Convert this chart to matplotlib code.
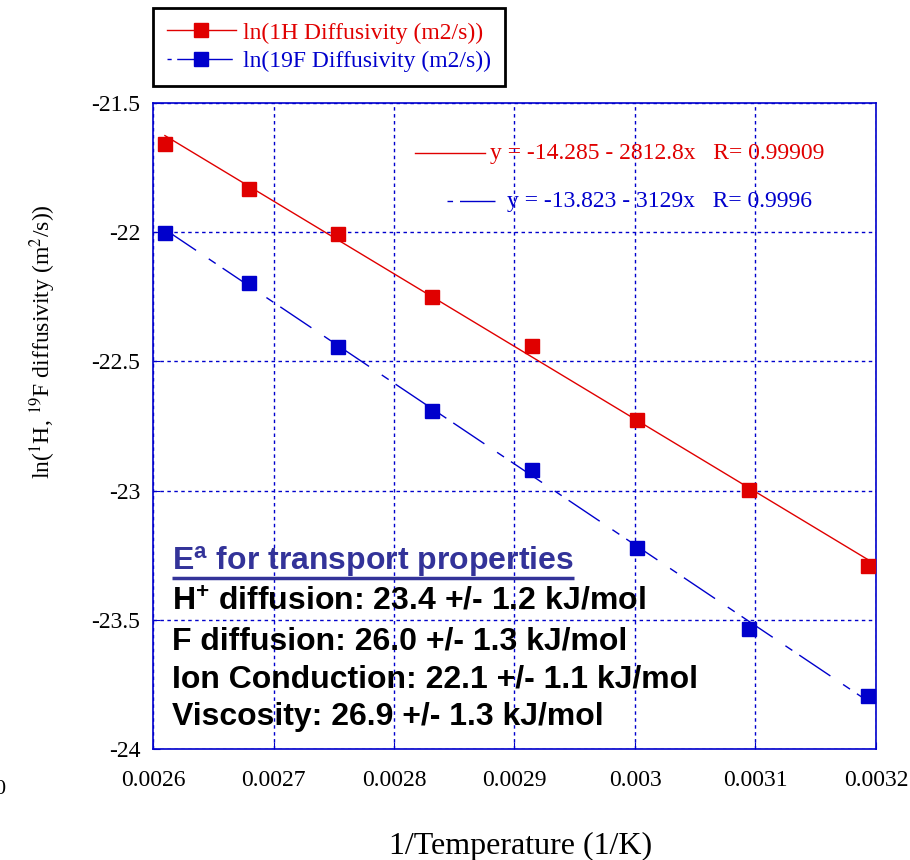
import numpy as np
import matplotlib
matplotlib.use('Agg')
from matplotlib import pyplot as plt
from matplotlib.font_manager import FontProperties

# 1/T for 110 ... 40 C
inv_temp = [0.0026099, 0.0026799, 0.0027537, 0.0028317,
            0.0029142, 0.0030017, 0.0030945, 0.0031934]
ln_h = [-21.659, -21.832, -22.007, -22.251, -22.440, -22.727, -22.998, -23.292]
ln_f = [-22.003, -22.197, -22.444, -22.692, -22.920, -23.222, -23.536, -23.795]

# linear fits y = a + b*x
fit_h = (-14.285, -2812.8, 0.99909)
fit_f = (-13.823, -3129.0, 0.9996)

xticks = [0.0026, 0.0027, 0.0028, 0.0029, 0.003, 0.0031, 0.0032]
yticks = [-24, -23.5, -23, -22.5, -22, -21.5]

ea_lines = ['H$^{+}$ diffusion: 23.4 +/- 1.2 kJ/mol',
            'F diffusion: 26.0 +/- 1.3 kJ/mol',
            'Ion Conduction: 22.1 +/- 1.1 kJ/mol',
            'Viscosity: 26.9 +/- 1.3 kJ/mol']

RED = '#e00000'
BLUE = '#0000cc'
serif = 'Liberation Serif'
sans = 'Liberation Sans'
plt.rcParams['font.family'] = serif
plt.rcParams['mathtext.fontset'] = 'custom'
plt.rcParams['mathtext.rm'] = 'Liberation Sans:bold'
plt.rcParams['mathtext.it'] = 'Liberation Sans:bold'
plt.rcParams['mathtext.bf'] = 'Liberation Sans:bold'

fig = plt.figure(figsize=(9.1, 8.6), dpi=100)
ax = fig.add_axes([153/910, 1-749/860, 723/910, 646/860])

dash_f = (0, (27, 11, 6, 6))

# fit lines across the measured range
xs = np.array([inv_temp[0], inv_temp[-1]])
ax.plot(xs, fit_h[0] + fit_h[1]*xs, color=RED, lw=1.0, zorder=3)
ax.plot(xs, fit_f[0] + fit_f[1]*xs, color=BLUE, lw=1.0, ls=dash_f, zorder=3)

ax.plot(inv_temp, ln_h, 's', color=RED, ms=10, zorder=4)
ax.plot(inv_temp, ln_f, 's', color=BLUE, ms=10, zorder=4)

# legend handles (line + marker)
lh, = ax.plot([], [], 's-', color=RED, ms=10, lw=1.0, label='ln(1H Diffusivity (m2/s))')
lf, = ax.plot([], [], 's', ls=(0, (3, 4, 40, 4)), color=BLUE, ms=10, lw=1.0,
              label='ln(19F Diffusivity (m2/s))')
leg = fig.legend(handles=[lh, lf], loc='upper left', bbox_to_anchor=(153/910, 1-8/860),
                 borderaxespad=0, frameon=True, fancybox=False, edgecolor='black',
                 framealpha=1, prop=FontProperties(family=serif, size=17),
                 labelcolor='linecolor', handlelength=2.9, borderpad=0.6,
                 labelspacing=0.3, handletextpad=0.3)
leg.get_frame().set_linewidth(2.0)

ax.set_xlim(0.0026, 0.0032)
ax.set_ylim(-24, -21.5)
ax.set_xticks(xticks)
ax.set_yticks(yticks)
ax.set_xticklabels(['%g' % v for v in xticks])
ax.set_yticklabels(['%g' % v for v in yticks])
ax.tick_params(direction='in', colors=BLUE, length=5, labelsize=17, labelcolor='black')
ax.tick_params(axis='x', pad=15)
ax.tick_params(axis='y', pad=9)
for s in ax.spines.values():
    s.set_color(BLUE)
    s.set_linewidth(1.2)
ax.grid(True, color=BLUE, ls=(0, (2.5, 2.5)), lw=1.0)

ax.set_xlabel('1/Temperature (1/K)', fontsize=23)
ax.xaxis.set_label_coords(0.508, -0.129)
ax.set_ylabel('ln($^{1}$H, $^{19}$F diffusivity (m$^{2}$/s))', fontsize=17,
              math_fontfamily='stix')
ax.yaxis.set_label_coords(-0.131, 0.63)

# fit equations with line samples
ax.plot([0.362, 0.459], [0.9226, 0.9226], color=RED, lw=1.0, transform=ax.transAxes)
ax.text(0.466, 0.9226, 'y = %g - %gx   R= %g' % (fit_h[0], -fit_h[1], fit_h[2]),
        color=RED, fontsize=17, va='center', transform=ax.transAxes)
ax.plot([0.407, 0.473], [0.848, 0.848], color=BLUE, lw=1.0, ls=(0, (4, 5, 40, 5)),
        transform=ax.transAxes)
ax.text(0.490, 0.848, 'y = %g - %gx   R= %g' % (fit_f[0], -fit_f[1], fit_f[2]),
        color=BLUE, fontsize=17, va='center', transform=ax.transAxes)

# activation energies
title = ax.text(0.026, 0.290, 'E$^{a}$ for transport properties', color='#333399',
                fontsize=23, fontfamily=sans, fontweight='bold', va='center',
                transform=ax.transAxes, math_fontfamily='custom')
for i, s in enumerate(ea_lines):
    ax.text(0.026, [0.228, 0.167, 0.107, 0.050][i], s, color='black', fontsize=23,
            fontfamily=sans, fontweight='bold', va='center', transform=ax.transAxes,
            math_fontfamily='custom')

fig.canvas.draw()
bb = title.get_window_extent().transformed(ax.transAxes.inverted())
ax.plot([bb.x0, bb.x1], [bb.y0 + 0.002, bb.y0 + 0.002], color='#333399', lw=2.5,
        transform=ax.transAxes, solid_capstyle='butt')

fig.text(5/910, 1-790/860, '0', fontsize=16, ha='right', va='center')

fig.savefig('out.png', dpi=100)
